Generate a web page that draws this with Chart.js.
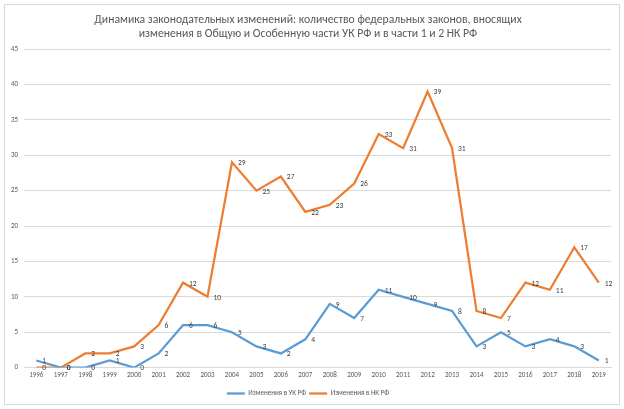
<!DOCTYPE html>
<html>
<head>
<meta charset="utf-8">
<script src="https://cdn.jsdelivr.net/npm/chart.js@4.4.0/dist/chart.umd.min.js"></script>
<style>
  body { margin: 0; background: #fff; }
  #box { position: absolute; left: 4px; top: 4px; width: 614px; height: 399px; border: 1px solid #d9d9d9; }
</style>
</head>
<body>
<div id="box"><canvas id="chart"></canvas></div>
<script>
var years = ['1996','1997','1998','1999','2000','2001','2002','2003','2004','2005','2006','2007',
             '2008','2009','2010','2011','2012','2013','2014','2015','2016','2017','2018','2019'];
var ukValues = [1,0,0,1,0,2,6,6,5,3,2,4,9,7,11,10,9,8,3,5,3,4,3,1];
var nkValues = [0,0,2,2,3,6,12,10,29,25,27,22,23,26,33,31,39,31,8,7,12,11,17,12];

Chart.defaults.font.family = 'Calibri, Carlito, "Liberation Sans", sans-serif';

// подписи значений справа от точек
var valueLabels = {
  id: 'valueLabels',
  afterDatasetsDraw: function (chart) {
    var ctx = chart.ctx;
    ctx.save();
    ctx.font = '7.5px Calibri, Carlito, "Liberation Sans", sans-serif';
    ctx.fillStyle = '#404040';
    ctx.textBaseline = 'middle';
    ctx.textAlign = 'left';
    chart.data.datasets.forEach(function (ds, i) {
      var meta = chart.getDatasetMeta(i);
      meta.data.forEach(function (pt, j) {
        ctx.fillText(ds.data[j], pt.x + 6, pt.y + 1);
      });
    });
    ctx.restore();
  }
};

var ctx = document.getElementById('chart').getContext('2d');
var chart = new Chart(ctx, {
  type: 'line',
  data: {
    labels: years,
    datasets: [
      {
        label: 'Изменения в УК РФ',
        data: ukValues,
        borderColor: '#5B9BD5',
        backgroundColor: '#5B9BD5',
        borderWidth: 2.25,
        pointRadius: 0,
        tension: 0
      },
      {
        label: 'Изменения в НК РФ',
        data: nkValues,
        borderColor: '#ED7D31',
        backgroundColor: '#ED7D31',
        borderWidth: 2.25,
        pointRadius: 0,
        tension: 0
      }
    ]
  },
  options: {
    responsive: true,
    maintainAspectRatio: false,
    animation: false,
    layout: { padding: { left: 0, right: 8, top: 1, bottom: -3 } },
    plugins: {
      title: {
        display: true,
        text: ['Динамика законодательных изменений: количество федеральных законов, вносящих',
               'изменения в Общую и Особенную части УК РФ и в части 1 и 2 НК РФ'],
        color: '#595959',
        font: { size: 11.7, weight: 'normal' },
        padding: { top: 7, bottom: 8 }
      },
      legend: {
        position: 'bottom',
        labels: {
          usePointStyle: true,
          pointStyle: 'line',
          pointStyleWidth: 18,
          color: '#595959',
          font: { size: 7 },
          boxHeight: 6,
          padding: 3
        }
      },
      tooltip: { enabled: false }
    },
    scales: {
      x: {
        offset: true,
        grid: { display: false, drawTicks: false },
        border: { color: '#d9d9d9' },
        ticks: { color: '#595959', font: { size: 7 }, maxRotation: 0, autoSkip: false, padding: 3 },
        afterFit: function (axis) { axis.height += 5; }
      },
      y: {
        min: 0,
        max: 45,
        ticks: { stepSize: 5, color: '#595959', font: { size: 7 }, padding: 6 },
        grid: { color: '#d9d9d9', drawTicks: false },
        border: { display: false }
      }
    }
  },
  plugins: [valueLabels]
});
</script>
</body>
</html>
